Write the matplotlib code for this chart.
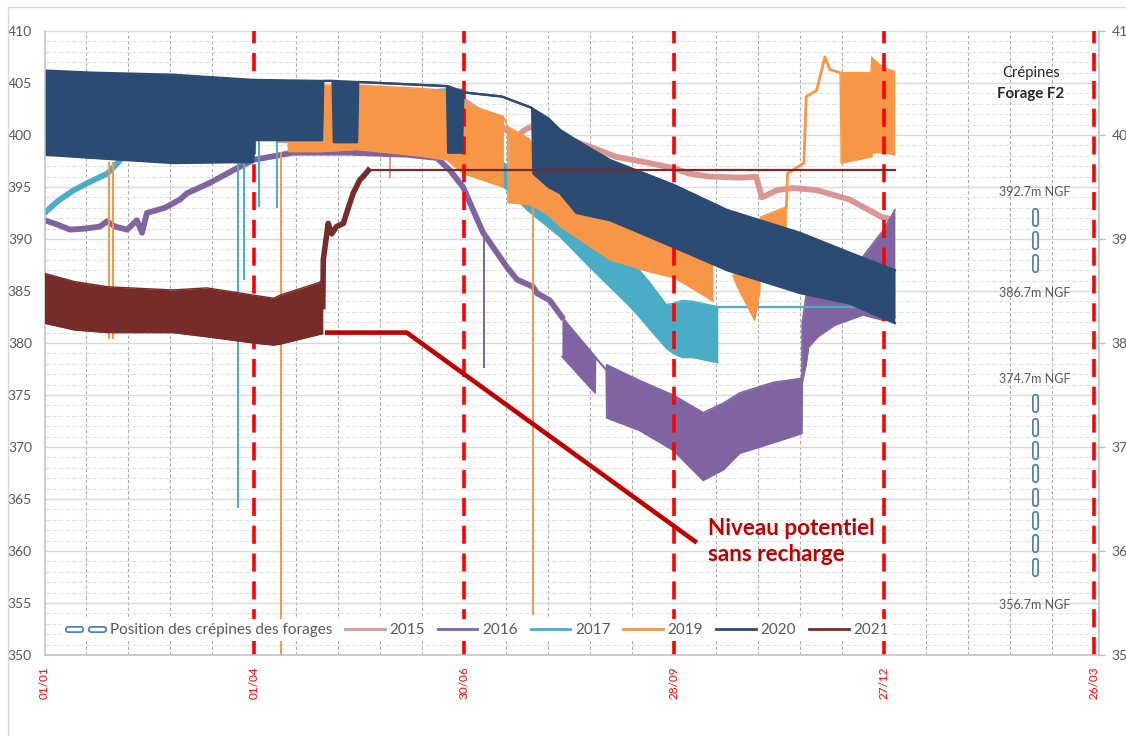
import numpy as np
import matplotlib
matplotlib.use("Agg")
import matplotlib.pyplot as plt
from matplotlib.lines import Line2D
from matplotlib.path import Path
from matplotlib.ticker import MultipleLocator
from matplotlib.legend_handler import HandlerLine2D

plt.rcParams['font.family'] = ['Lato', 'DejaVu Sans']

# --- x axis: days since 01/01 ---
xtick_days = [0, 90, 180, 270, 360, 450]
xtick_labels = ['01/01', '01/04', '30/06', '28/09', '27/12', '26/03']

# --- 2020 (band: top / bottom envelopes) ---
d2020 = [0, 20, 55, 89.5, 90, 119, 119.5, 123.5, 124, 134, 134.5, 172.5, 173, 179, 179.5,
         196, 209, 209.5, 216, 221, 228, 242.4, 269.8, 292.5, 323.8, 345, 364.5]
hi2020 = [406.2, 406.0, 405.8, 405.3, 405.3, 405.2, 405.2, 405.2, 405.2, 405.1, 405.1, 404.7,
          404.7, 404.2, 404.1, 403.7, 402.6, 402.5, 401.6, 400.5, 399.5, 397.6, 395.2, 392.8,
          390.6, 388.7, 387.0]
lo2020 = [398.1, 397.8, 397.3, 397.4, 399.5, 399.5, 405.2, 405.2, 399.3, 399.3, 405.1, 404.7,
          398.3, 398.3, 404.1, 403.7, 402.6, 396.3, 395.0, 394.4, 392.5, 391.8, 389.2, 387.0,
          384.8, 383.8, 381.9]

# --- 2019 (bands + line) ---
d2019a = [104, 104.5, 119, 134, 160, 172.5, 179.4, 196.5, 196.6, 198.5, 198.6, 208, 210, 216,
          221, 242.4, 260, 269.8, 283.9, 286.5]
hi2019a = [404.9, 404.9, 404.8, 404.8, 404.5, 404.3, 403.1, 401.8, 401.8, 400.8, 400.8, 399.6,
           398.5, 396.5, 395.5, 393.5, 391.8, 390.8, 389.0, 388.5]
lo2019a = [404.9, 398.4, 398.4, 398.6, 398.0, 397.6, 396.3, 395.0, 401.8, 400.8, 393.5, 393.3,
           393.1, 392.3, 391.2, 388.0, 386.8, 386.3, 384.4, 384.0]
d2019b = [295, 297, 304.4, 306.6, 306.8, 318]
hi2019b = [388.5, 388.3, 387.8, 387.6, 392.1, 393.1]
lo2019b = [386.5, 385.4, 382.2, 385.0, 389.5, 389.5]
d2019c = [318, 318.5, 325.5, 326.5, 331, 334.5, 336.6, 341]
v2019c = [393.1, 396.3, 397.3, 403.7, 404.3, 407.5, 406.3, 406.0]
d2019d = [341, 341.5, 354.2, 354.6, 354.8, 359.4, 364.5]
hi2019d = [406.0, 406.0, 406.0, 407.5, 407.4, 406.5, 406.1]
lo2019d = [406.0, 397.3, 397.9, 397.9, 398.3, 398.3, 398.1]
spk2019_d = [27.6, 29.5, 101.3, 209.4]
spk2019_top = [397.4, 397.4, 398.4, 393.3]
spk2019_bot = [380.4, 380.4, 350.0, 353.8]

# --- 2017 ---
d2017_line = [0, 6, 12.6, 18.6, 27, 31.3, 36, 90, 170, 179]
v2017_line = [392.5, 393.7, 394.7, 395.4, 396.3, 397.3, 398.5, 402.0, 404.2, 404.2]
d2017 = [179, 182, 185, 196, 206.8, 221, 235, 249.6, 255, 259.5, 266.5, 269.4, 273.5, 278, 288.6]
hi2017 = [404.2, 401.5, 400.0, 397.5, 395.5, 393.0, 390.0, 388.2, 387.0, 385.8, 383.7, 383.8,
          384.1, 384.0, 383.5]
lo2017 = [404.0, 400.5, 398.0, 395.2, 392.8, 390.2, 387.0, 383.8, 382.5, 381.3, 379.5, 379.0,
          378.6, 378.6, 378.1]
d2017_flat = [288.6, 348]
v2017_flat = [383.5, 383.5]
spk2017_d = [82.9, 85.5, 91.8, 99.6]
spk2017_top = [397.4, 397.4, 399.5, 399.5]
spk2017_bot = [364.1, 386.1, 393.1, 393.0]

# --- 2016 ---
d2016_line = [0, 5.4, 10.9, 17.4, 23.8, 26.8, 30.2, 35.4, 39.6, 41.8, 43.9, 51.6, 58.1, 61.1,
              70.9, 80.8, 89.4, 106.5, 130.9, 155.4, 168.2, 173.8, 179.4, 188, 198.2, 202.5,
              209.4, 211, 216.6, 221.8]
v2016_line = [391.8, 391.4, 390.9, 391.0, 391.2, 391.7, 391.2, 390.9, 391.8, 390.6, 392.5, 393.0,
              393.8, 394.4, 395.4, 396.6, 397.6, 398.3, 398.3, 398.1, 397.8, 396.6, 395.0, 390.6,
              387.3, 386.1, 385.4, 384.8, 384.1, 382.5]
d2016 = [221.8, 236, 236.2, 240.8, 241, 255, 269.4, 282.3, 290.9, 298, 312.2, 324.6, 324.8,
         326.5, 327.5, 331.5, 338.6, 350.8, 359.4, 364.5]
hi2016 = [382.5, 378.7, 378.6, 377.4, 377.9, 376.4, 375.0, 373.3, 374.2, 375.2, 376.2, 376.6,
          382.0, 384.6, 384.8, 384.8, 384.8, 388.3, 390.8, 392.8]
lo2016 = [378.7, 375.2, 378.6, 377.4, 372.8, 371.6, 369.7, 366.8, 367.8, 369.4, 370.4, 371.3,
          376.2, 378.0, 379.6, 380.6, 381.7, 382.7, 382.2, 382.5]
spk2016_d = [188.2]
spk2016_top = [390.6]
spk2016_bot = [377.6]

# --- 2015 ---
d2015 = [100, 140, 148, 160, 175, 180, 183, 190, 196, 202, 206, 212, 220, 237, 245, 257, 270,
         276, 285, 299, 305, 307.5, 314, 321, 331, 345, 359, 364.5]
v2015 = [399.5, 399.5, 399.8, 400.5, 402.0, 403.3, 402.8, 401.8, 400.8, 399.8, 400.5, 401.2,
         400.0, 398.6, 397.9, 397.4, 396.8, 396.3, 396.0, 395.9, 396.0, 394.0, 394.7, 394.9,
         394.7, 393.8, 392.1, 391.8]
spk2015_d = [148.3]
spk2015_top = [398.6]
spk2015_bot = [395.9]

# --- 2021 ---
d2021 = [0, 12.9, 27.4, 55, 69.6, 89.6, 98.2, 101, 117.4, 119.3]
hi2021 = [386.7, 385.9, 385.4, 385.1, 385.3, 384.6, 384.3, 384.6, 385.8, 386.0]
lo2021 = [381.9, 381.25, 381.0, 381.0, 380.6, 380.0, 379.8, 379.9, 380.8, 380.9]
d2021_rise = [119.3, 119.5, 121.6, 123.1, 125.2, 128.1, 129.5, 132.3, 135.2, 136.6, 138.8]
v2021_rise = [383.5, 388.0, 391.5, 390.5, 391.2, 391.5, 392.5, 394.4, 395.7, 396.0, 396.6]
d2021_flat = [138.8, 364.5]
v2021_flat = [396.6, 396.6]

# --- annotation "niveau potentiel sans recharge" ---
ann_d = [120.2, 155.3, 279.6]
ann_v = [381.0, 381.0, 360.8]

# --- crépines forage F2 ---
crep_day = 424.5
crep_up = [392.1, 389.9, 387.7]
crep_low = [374.2, 371.9, 369.7, 367.5, 365.2, 363.0, 360.8, 358.5]
crep_labels = ['392.7m NGF', '386.7m NGF', '374.7m NGF', '356.7m NGF']
crep_label_v = [394.5, 384.8, 376.5, 354.8]

C15, C16, C17 = '#D99694', '#8064A2', '#4BACC6'
C19, C20, C21 = '#F79646', '#2C4B72', '#772C2A'
GREY = '#595959'

fig = plt.figure(figsize=(11.26, 7.36), dpi=100)
ax = fig.add_axes([44.5 / 1126, 1 - 655 / 736, (1099 - 44.5) / 1126, (655 - 31) / 736])
ax.set_xlim(0, 452)
ax.set_ylim(350, 410)

# grid
ax.set_yticks(np.arange(350, 411, 5))
ax.yaxis.set_minor_locator(MultipleLocator(1))
ax.set_xticks(xtick_days)
ax.set_xticklabels(xtick_labels, rotation=90)
ax.xaxis.set_minor_locator(MultipleLocator(18))
ax.grid(which='major', axis='y', color='#D9D9D9', lw=1.0)
ax.grid(which='minor', axis='y', color='#E2E2E2', lw=0.8, ls=(0, (4, 2)))
ax.grid(which='minor', axis='x', color='#ABABAB', lw=0.8, ls=(0, (3, 2)))
ax.set_axisbelow(True)
ax.tick_params(axis='y', which='both', length=0, labelsize=10, labelcolor=GREY, pad=9)
ax.tick_params(axis='x', which='both', length=0, labelsize=8.5, labelcolor='#FF0000', pad=8)
for s in ['top', 'right']:
    ax.spines[s].set_visible(False)
for s in ['left', 'bottom']:
    ax.spines[s].set_color('#BFBFBF')
    ax.spines[s].set_linewidth(1.1)


def band(d, hi, lo, color, lw, z):
    ax.fill_between(d, lo, hi, color=color, lw=0, zorder=z)
    ax.plot(d, hi, color=color, lw=lw, zorder=z)
    ax.plot(d, lo, color=color, lw=lw, zorder=z)


def spikes(d, top, bot, color, z):
    ax.vlines(d, bot, top, colors=color, lw=1.4, zorder=z)


# 2015
ax.plot(d2015, v2015, color=C15, lw=4.2, zorder=2.0, solid_capstyle='butt')
spikes(spk2015_d, spk2015_top, spk2015_bot, C15, 2.0)
# 2016
ax.plot(d2016_line, v2016_line, color=C16, lw=4.2, zorder=2.1)
band(d2016, hi2016, lo2016, C16, 1.2, 2.1)
spikes(spk2016_d, spk2016_top, spk2016_bot, C16, 2.1)
# 2017
ax.plot(d2017_line, v2017_line, color=C17, lw=4.2, zorder=2.2)
band(d2017, hi2017, lo2017, C17, 1.0, 2.2)
ax.plot(d2017_flat, v2017_flat, color=C17, lw=1.6, zorder=2.2)
spikes(spk2017_d, spk2017_top, spk2017_bot, C17, 2.2)
# 2019
band(d2019a, hi2019a, lo2019a, C19, 1.0, 2.3)
band(d2019b, hi2019b, lo2019b, C19, 1.0, 2.3)
ax.plot(d2019c, v2019c, color=C19, lw=2.0, zorder=2.3)
band(d2019d, hi2019d, lo2019d, C19, 1.0, 2.3)
spikes(spk2019_d, spk2019_top, spk2019_bot, C19, 2.3)

# red dashed reference lines
for d in xtick_days[1:]:
    ax.axvline(d, color='#FF0000', lw=2.6, dashes=(5, 2.7), zorder=2.4)

# 2020
band(d2020, hi2020, lo2020, C20, 1.6, 2.5)
# 2021
band(d2021, hi2021, lo2021, C21, 1.0, 2.6)
ax.plot(d2021_rise, v2021_rise, color=C21, lw=4.0, zorder=2.6)
ax.plot(d2021_flat, v2021_flat, color=C21, lw=1.6, zorder=2.6)

# annotation
ax.plot(ann_d, ann_v, color='#C00000', lw=3.3, zorder=2.7, solid_capstyle='butt')
ax.text(284.3, 363.2, 'Niveau potentiel\nsans recharge', color='#C00000', fontsize=16.2,
        fontweight='bold', va='top', ha='left', linespacing=1.3, zorder=3)

# crépines markers
t = np.linspace(0, np.pi, 16)
r = 0.15
cap_top = np.column_stack([r * np.cos(t), 0.5 - r + r * np.sin(t)])
cap_bot = np.column_stack([-r * np.cos(t), -(0.5 - r) - r * np.sin(t)])
cap = np.vstack([cap_top, cap_bot, cap_top[:1]])
capsule_v = Path(cap, closed=True)
capsule_h = Path(cap[:, ::-1], closed=True)
mk = dict(ls='none', mfc='white', mec='#4F81BD', mew=1.3, ms=12.5, zorder=3)
ax.plot([crep_day] * len(crep_up), crep_up, marker=capsule_v, **mk)
ax.plot([crep_day] * len(crep_low), crep_low, marker=capsule_v, **mk)
for lab, v in zip(crep_labels, crep_label_v):
    ax.text(crep_day, v, lab, ha='center', va='center', fontsize=9, color=GREY, zorder=3)
ax.text(422.8, 406.0, 'Crépines', ha='center', va='center', fontsize=10.6, color='#262626')
ax.text(422.8, 403.9, 'Forage F2', ha='center', va='center', fontsize=10.8,
        fontweight='bold', color='#262626')

# legend
crep_handle = Line2D([], [], ls='none', marker=capsule_h, mfc='white', mec='#4F81BD',
                     mew=1.3, ms=12.5)
handles = [crep_handle]
labels = ['Position des crépines des forages']
for c, lab in zip([C15, C16, C17, C19, C20, C21], ['2015', '2016', '2017', '2019', '2020', '2021']):
    handles.append(Line2D([], [], color=c, lw=2.0))
    labels.append(lab)
leg = ax.legend(handles, labels, loc='center left', bbox_to_anchor=(4.0, 352.4),
                bbox_transform=ax.transData, ncol=7, frameon=True, facecolor='white',
                edgecolor='none', framealpha=1, fontsize=11, handlelength=2.6,
                handletextpad=0.3, columnspacing=0.85, borderpad=0.25,
                labelcolor=GREY, fancybox=False,
                handler_map={crep_handle: HandlerLine2D(numpoints=2, marker_pad=0.55)})
leg.set_zorder(5)

# right axis
ax2 = ax.twinx()
ax2.set_ylim(350, 410)
ax2.set_yticks(np.arange(350, 411, 10))
ax2.tick_params(axis='y', length=4, width=1, color='#BFBFBF', labelsize=10, labelcolor=GREY, pad=5)
for s in ['top', 'left', 'bottom']:
    ax2.spines[s].set_visible(False)
ax2.spines['right'].set_color('#BFBFBF')
ax2.spines['right'].set_linewidth(1.1)

# outer chart frame
fig.add_artist(Line2D([8 / 1126, 1], [1 - 7 / 736] * 2, color='#D9D9D9', lw=1,
                      transform=fig.transFigure))
fig.add_artist(Line2D([8 / 1126] * 2, [0, 1 - 7 / 736], color='#D9D9D9', lw=1,
                      transform=fig.transFigure))

fig.savefig('out.png', dpi=100)
